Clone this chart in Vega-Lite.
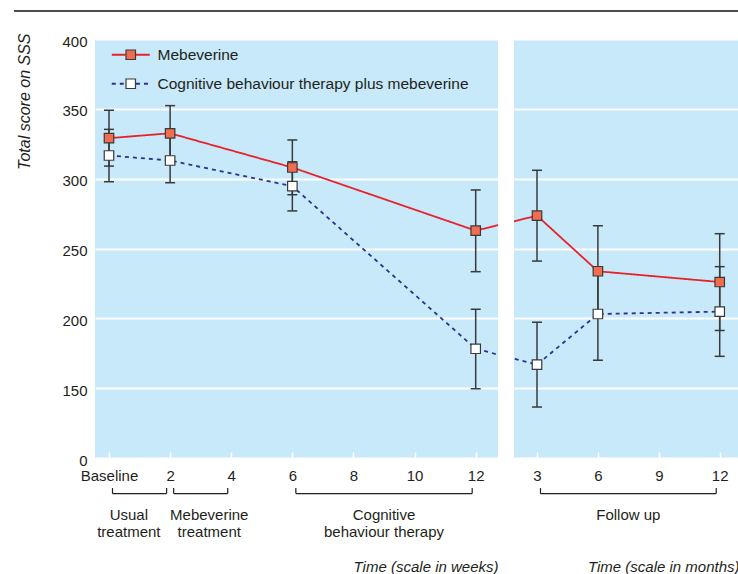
{
  "$schema": "https://vega.github.io/schema/vega-lite/v6.json",
  "background": "white",
  "padding": {"left": 12, "top": 10, "right": 0, "bottom": 0},
  "bounds": "flush",
  "spacing": 16,
  "config": {
    "font": "Liberation Sans",
    "view": {"fill": "#c7e9f9", "stroke": null},
    "axis": {
      "labelFont": "Liberation Sans",
      "labelFontSize": 15,
      "labelColor": "#231f20",
      "titleFont": "Liberation Sans",
      "titleFontSize": 15,
      "titleFontWeight": "normal",
      "titleFontStyle": "italic",
      "titleColor": "#231f20",
      "domain": false,
      "gridColor": "white",
      "gridWidth": 2,
      "gridOpacity": 1
    },
    "axisY": {"titleFontSize": 16}
  },
  "datasets": {
    "weeks": [
      {"group": "Mebeverine", "week": 0, "mean": 329, "lo": 309, "hi": 349},
      {"group": "Mebeverine", "week": 2, "mean": 332.5, "lo": 313, "hi": 352.3},
      {"group": "Mebeverine", "week": 6, "mean": 308, "lo": 288.5, "hi": 327.7},
      {"group": "Mebeverine", "week": 12, "mean": 262.8, "lo": 233.4, "hi": 291.9},
      {"group": "Mebeverine", "week": 14, "mean": 273.5, "bridge": true},
      {"group": "Cognitive behaviour therapy plus mebeverine", "week": 0, "mean": 316.6, "lo": 297.8, "hi": 335.3},
      {"group": "Cognitive behaviour therapy plus mebeverine", "week": 2, "mean": 313, "lo": 297.1, "hi": 329.3},
      {"group": "Cognitive behaviour therapy plus mebeverine", "week": 6, "mean": 294.6, "lo": 276.9, "hi": 312.1},
      {"group": "Cognitive behaviour therapy plus mebeverine", "week": 12, "mean": 178.2, "lo": 149.6, "hi": 206.5},
      {"group": "Cognitive behaviour therapy plus mebeverine", "week": 14, "mean": 166.8, "bridge": true}
    ],
    "months": [
      {"group": "Mebeverine", "month": 0, "mean": 262.8, "bridge": true},
      {"group": "Mebeverine", "month": 3, "mean": 273.5, "lo": 241, "hi": 306},
      {"group": "Mebeverine", "month": 6, "mean": 233.7, "lo": 201, "hi": 266.3},
      {"group": "Mebeverine", "month": 12, "mean": 226, "lo": 191.3, "hi": 260.6},
      {"group": "Cognitive behaviour therapy plus mebeverine", "month": 0, "mean": 178.2, "bridge": true},
      {"group": "Cognitive behaviour therapy plus mebeverine", "month": 3, "mean": 166.8, "lo": 136.5, "hi": 197.2},
      {"group": "Cognitive behaviour therapy plus mebeverine", "month": 6, "mean": 203.1, "lo": 170, "hi": 236},
      {"group": "Cognitive behaviour therapy plus mebeverine", "month": 12, "mean": 204.8, "lo": 172.8, "hi": 237}
    ],
    "phasesWeeks": [
      {"label": "Usual\ntreatment", "start": 0, "end": 2, "labelAt": 0.65},
      {"label": "Mebeverine\ntreatment", "start": 2, "end": 4, "labelAt": 3.28},
      {"label": "Cognitive\nbehaviour therapy", "start": 6, "end": 12, "labelAt": 9}
    ],
    "phasesMonths": [
      {"label": "Follow up", "start": 3, "end": 12, "labelAt": 7.5}
    ]
  },
  "hconcat": [
    {
      "width": 403,
      "height": 419,
      "layer": [
        {
          "data": {"name": "weeks"},
          "mark": {"type": "line", "clip": true, "strokeWidth": 1.8},
          "encoding": {
            "x": {
              "field": "week", "type": "quantitative",
              "scale": {"domain": [-0.458, 12.73], "nice": false, "zero": false},
              "axis": {
                "values": [0, 2, 4, 6, 8, 10, 12],
                "labelExpr": "datum.value == 0 ? 'Baseline' : datum.label",
                "tickColor": "white", "tickSize": -6, "tickWidth": 1.5,
                "labelPadding": 16, "grid": false,
                "title": "Time (scale in weeks)",
                "titleAnchor": "end", "titleY": 113, "titleBaseline": "alphabetic"
              }
            },
            "y": {
              "field": "mean", "type": "quantitative",
              "scale": {"domain": [100, 400], "nice": false, "zero": false},
              "axis": {
                "values": [100, 150, 200, 250, 300, 350, 400],
                "labelExpr": "datum.value == 100 ? '0' : datum.label",
                "ticks": false, "labelPadding": 8, "labelOffset": 2, "grid": true,
                "title": "Total score on SSS", "titleFontSize": 16,
                "titleAngle": -90, "titleX": -66, "titleY": -6,
                "titleAlign": "right", "titleBaseline": "alphabetic"
              }
            },
            "stroke": {
              "field": "group", "type": "nominal",
              "scale": {"domain": ["Mebeverine", "Cognitive behaviour therapy plus mebeverine"], "range": ["#e8222a", "#2e3192"]},
              "legend": {
                "orient": "none", "legendX": 28, "legendY": 8, "title": null, "padding": 0,
                "symbolType": "M-4,0H-1.1M1.1,0H4", "symbolSize": 90, "symbolStrokeWidth": 1.8,
                "labelFont": "Liberation Sans", "labelFontSize": 15.5, "labelColor": "#231f20",
                "labelOffset": 19, "labelLimit": 400, "rowPadding": 12
              }
            },
            "strokeDash": {
              "field": "group", "type": "nominal",
              "scale": {"domain": ["Mebeverine", "Cognitive behaviour therapy plus mebeverine"], "range": [[1, 0], [4, 4]]},
              "legend": {
                "orient": "none", "legendX": 28, "legendY": 8, "title": null, "padding": 0,
                "symbolType": "M-4,0H-1.1M1.1,0H4", "symbolSize": 90, "symbolStrokeWidth": 1.8,
                "labelFont": "Liberation Sans", "labelFontSize": 15.5, "labelColor": "#231f20",
                "labelOffset": 19, "labelLimit": 400, "rowPadding": 12
              }
            }
          }
        },
        {
          "data": {"name": "weeks"},
          "transform": [{"filter": "datum.bridge !== true"}],
          "mark": {"type": "rule", "color": "#3a3a3a", "strokeWidth": 1.5},
          "encoding": {
            "x": {"field": "week", "type": "quantitative"},
            "y": {"field": "lo", "type": "quantitative"},
            "y2": {"field": "hi"}
          }
        },
        {
          "data": {"name": "weeks"},
          "transform": [{"filter": "datum.bridge !== true"}],
          "mark": {"type": "tick", "orient": "horizontal", "color": "#3a3a3a", "size": 10, "thickness": 1.5, "opacity": 1},
          "encoding": {
            "x": {"field": "week", "type": "quantitative"},
            "y": {"field": "lo", "type": "quantitative"}
          }
        },
        {
          "data": {"name": "weeks"},
          "transform": [{"filter": "datum.bridge !== true"}],
          "mark": {"type": "tick", "orient": "horizontal", "color": "#3a3a3a", "size": 10, "thickness": 1.5, "opacity": 1},
          "encoding": {
            "x": {"field": "week", "type": "quantitative"},
            "y": {"field": "hi", "type": "quantitative"}
          }
        },
        {
          "data": {"name": "weeks"},
          "transform": [{"filter": "datum.bridge !== true"}],
          "mark": {"type": "point", "shape": "square", "filled": true, "size": 90, "stroke": "#3a3a3a", "strokeWidth": 1.2, "opacity": 1},
          "encoding": {
            "x": {"field": "week", "type": "quantitative"},
            "y": {"field": "mean", "type": "quantitative"},
            "fill": {
              "field": "group", "type": "nominal",
              "sort": ["Mebeverine", "Cognitive behaviour therapy plus mebeverine"],
              "scale": {"range": ["#f26c4f", "#ffffff"]},
              "legend": {
                "orient": "none", "legendX": 28, "legendY": 8, "title": null, "padding": 0,
                "symbolType": "square", "symbolSize": 90, "symbolStrokeColor": "#3a3a3a", "symbolStrokeWidth": 1.2,
                "labelFont": "Liberation Sans", "labelFontSize": 15.5, "labelOpacity": 0,
                "labelOffset": 19, "labelLimit": 400, "rowPadding": 12
              }
            }
          }
        },
        {
          "data": {"values": [{}]},
          "mark": {"type": "rule", "clip": false, "color": "#4d4d4d", "strokeWidth": 2},
          "encoding": {
            "x": {"datum": -3.11, "type": "quantitative"},
            "x2": {"datum": 20.62},
            "y": {"datum": 420, "type": "quantitative"}
          }
        },
        {
          "data": {"name": "phasesWeeks"},
          "mark": {"type": "rule", "clip": false, "color": "#231f20", "strokeWidth": 1.2, "xOffset": 3.5, "x2Offset": -3.5},
          "encoding": {
            "x": {"field": "start", "type": "quantitative"},
            "x2": {"field": "end"},
            "y": {"datum": 74.5, "type": "quantitative"}
          }
        },
        {
          "data": {"name": "phasesWeeks"},
          "mark": {"type": "rule", "clip": false, "color": "#231f20", "strokeWidth": 1.2, "xOffset": 3.5},
          "encoding": {
            "x": {"field": "start", "type": "quantitative"},
            "y": {"datum": 74.5, "type": "quantitative"},
            "y2": {"datum": 78.5}
          }
        },
        {
          "data": {"name": "phasesWeeks"},
          "mark": {"type": "rule", "clip": false, "color": "#231f20", "strokeWidth": 1.2, "xOffset": -3.5},
          "encoding": {
            "x": {"field": "end", "type": "quantitative"},
            "y": {"datum": 74.5, "type": "quantitative"},
            "y2": {"datum": 78.5}
          }
        },
        {
          "data": {"name": "phasesWeeks"},
          "mark": {"type": "text", "clip": false, "fontSize": 15, "font": "Liberation Sans", "color": "#231f20", "align": "center", "baseline": "alphabetic", "lineBreak": "\n", "lineHeight": 17.3},
          "encoding": {
            "x": {"field": "labelAt", "type": "quantitative"},
            "y": {"datum": 55.6, "type": "quantitative"},
            "text": {"field": "label"}
          }
        }
      ]
    },
    {
      "width": 225,
      "height": 419,
      "layer": [
        {
          "data": {"name": "months"},
          "mark": {"type": "line", "clip": true, "strokeWidth": 1.8},
          "encoding": {
            "x": {
              "field": "month", "type": "quantitative",
              "scale": {"domain": [1.867, 12.95], "nice": false, "zero": false},
              "axis": {
                "values": [3, 6, 9, 12],
                "tickColor": "white", "tickSize": -6, "tickWidth": 1.5,
                "labelPadding": 16, "grid": false,
                "title": "Time (scale in months)",
                "titleAnchor": "end", "titleY": 113, "titleBaseline": "alphabetic"
              }
            },
            "y": {
              "field": "mean", "type": "quantitative",
              "scale": {"domain": [100, 400], "nice": false, "zero": false},
              "axis": {
                "values": [100, 150, 200, 250, 300, 350, 400],
                "labels": false, "ticks": false, "grid": true, "title": null
              }
            },
            "stroke": {"field": "group", "type": "nominal", "legend": null},
            "strokeDash": {"field": "group", "type": "nominal", "legend": null}
          }
        },
        {
          "data": {"name": "months"},
          "transform": [{"filter": "datum.bridge !== true"}],
          "mark": {"type": "rule", "color": "#3a3a3a", "strokeWidth": 1.5},
          "encoding": {
            "x": {"field": "month", "type": "quantitative"},
            "y": {"field": "lo", "type": "quantitative"},
            "y2": {"field": "hi"}
          }
        },
        {
          "data": {"name": "months"},
          "transform": [{"filter": "datum.bridge !== true"}],
          "mark": {"type": "tick", "orient": "horizontal", "color": "#3a3a3a", "size": 10, "thickness": 1.5, "opacity": 1},
          "encoding": {
            "x": {"field": "month", "type": "quantitative"},
            "y": {"field": "lo", "type": "quantitative"}
          }
        },
        {
          "data": {"name": "months"},
          "transform": [{"filter": "datum.bridge !== true"}],
          "mark": {"type": "tick", "orient": "horizontal", "color": "#3a3a3a", "size": 10, "thickness": 1.5, "opacity": 1},
          "encoding": {
            "x": {"field": "month", "type": "quantitative"},
            "y": {"field": "hi", "type": "quantitative"}
          }
        },
        {
          "data": {"name": "months"},
          "transform": [{"filter": "datum.bridge !== true"}],
          "mark": {"type": "point", "shape": "square", "filled": true, "size": 90, "stroke": "#3a3a3a", "strokeWidth": 1.2, "opacity": 1},
          "encoding": {
            "x": {"field": "month", "type": "quantitative"},
            "y": {"field": "mean", "type": "quantitative"},
            "fill": {"field": "group", "type": "nominal", "sort": ["Mebeverine", "Cognitive behaviour therapy plus mebeverine"], "legend": null}
          }
        },
        {
          "data": {"name": "phasesMonths"},
          "mark": {"type": "rule", "clip": false, "color": "#231f20", "strokeWidth": 1.2, "xOffset": 3.5, "x2Offset": -3.5},
          "encoding": {
            "x": {"field": "start", "type": "quantitative"},
            "x2": {"field": "end"},
            "y": {"datum": 74.5, "type": "quantitative"}
          }
        },
        {
          "data": {"name": "phasesMonths"},
          "mark": {"type": "rule", "clip": false, "color": "#231f20", "strokeWidth": 1.2, "xOffset": 3.5},
          "encoding": {
            "x": {"field": "start", "type": "quantitative"},
            "y": {"datum": 74.5, "type": "quantitative"},
            "y2": {"datum": 78.5}
          }
        },
        {
          "data": {"name": "phasesMonths"},
          "mark": {"type": "rule", "clip": false, "color": "#231f20", "strokeWidth": 1.2, "xOffset": -3.5},
          "encoding": {
            "x": {"field": "end", "type": "quantitative"},
            "y": {"datum": 74.5, "type": "quantitative"},
            "y2": {"datum": 78.5}
          }
        },
        {
          "data": {"name": "phasesMonths"},
          "mark": {"type": "text", "clip": false, "fontSize": 15, "font": "Liberation Sans", "color": "#231f20", "align": "center", "baseline": "alphabetic", "lineBreak": "\n", "lineHeight": 17.3},
          "encoding": {
            "x": {"field": "labelAt", "type": "quantitative"},
            "y": {"datum": 55.6, "type": "quantitative"},
            "text": {"field": "label"}
          }
        }
      ]
    }
  ]
}
